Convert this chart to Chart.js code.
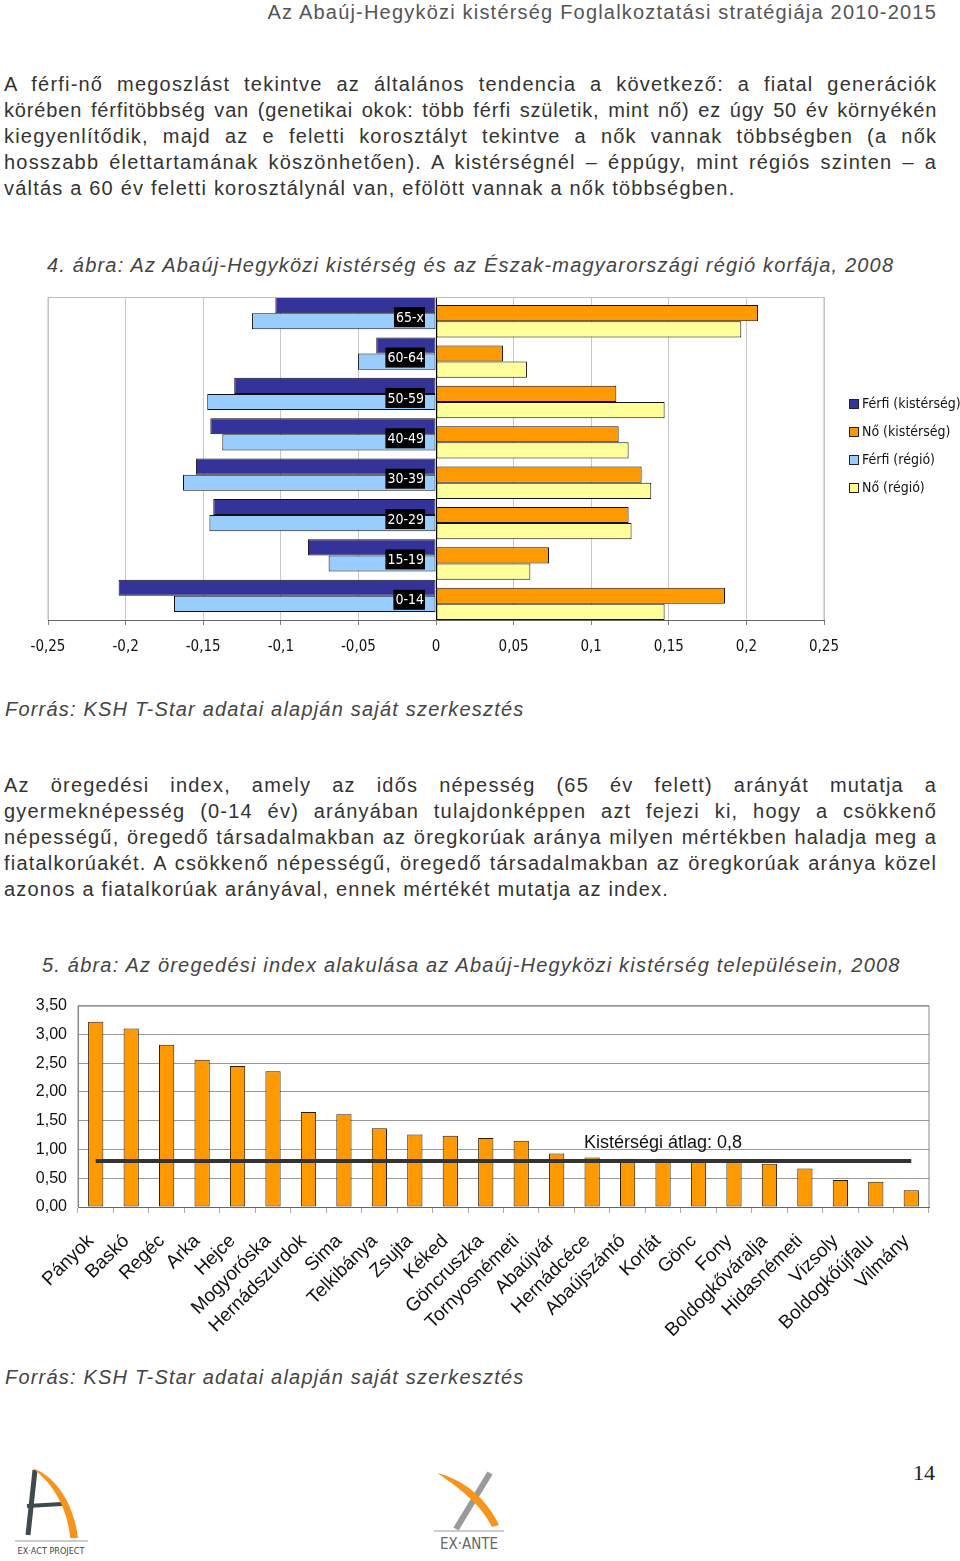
<!DOCTYPE html>
<html lang="hu">
<head>
<meta charset="utf-8">
<script src="https://cdn.jsdelivr.net/npm/chart.js@4.4.1/dist/chart.umd.min.js"></script>
<style>
  html, body { margin: 0; padding: 0; background: #fff; }
  body { width: 960px; height: 1561px; position: relative; overflow: hidden;
         font-family: "Liberation Sans", Arial, sans-serif; color: #333; }
  .abs { position: absolute; }
  canvas { display: block; }
  .hdr { top: 0; right: 23px; font-size: 20px; line-height: 24px; color: #555; white-space: nowrap; letter-spacing: 1.2px; }
  .para { left: 4px; width: 932px; font-size: 20px; line-height: 26px; color: #333; letter-spacing: 1.2px; }
  .para div { white-space: nowrap; }
  .para .j { text-align: justify; text-align-last: justify; white-space: normal; margin-right: -1.2px; }
  .para .t { letter-spacing: 0.85px; }
  .cap { font-size: 20px; line-height: 24px; font-style: italic; color: #444; white-space: nowrap; letter-spacing: 1.2px; }
  .pn { left: 913px; top: 1460px; font-family: "Liberation Serif", serif; font-size: 22px; line-height: 26px; color: #222; }
</style>
</head>
<body>
<div class="abs hdr">Az Abaúj-Hegyközi kistérség Foglalkoztatási stratégiája 2010-2015</div>

<div class="abs para" style="top:71px">
  <div class="j">A férfi-nő megoszlást tekintve az általános tendencia a következő: a fiatal generációk</div>
  <div class="j t">körében férfitöbbség van (genetikai okok: több férfi születik, mint nő) ez úgy 50 év környékén</div>
  <div class="j">kiegyenlítődik, majd az e feletti korosztályt tekintve a nők vannak többségben (a nők</div>
  <div class="j">hosszabb élettartamának köszönhetően). A kistérségnél – éppúgy, mint régiós szinten – a</div>
  <div>váltás a 60 év feletti korosztálynál van, efölött vannak a nők többségben.</div>
</div>

<div class="abs cap" style="top:253px; left:47px">4. ábra: Az Abaúj-Hegyközi kistérség és az Észak-magyarországi régió korfája, 2008</div>

<div class="abs" style="top:290px; left:0">
  <canvas id="pyramid" width="960" height="370"></canvas>
</div>

<div class="abs cap" style="top:697px; left:5px">Forrás: KSH T-Star adatai alapján saját szerkesztés</div>

<div class="abs para" style="top:772px">
  <div class="j">Az öregedési index, amely az idős népesség (65 év felett) arányát mutatja a</div>
  <div class="j">gyermeknépesség (0-14 év) arányában tulajdonképpen azt fejezi ki, hogy a csökkenő</div>
  <div class="j">népességű, öregedő társadalmakban az öregkorúak aránya milyen mértékben haladja meg a</div>
  <div class="j">fiatalkorúakét. A csökkenő népességű, öregedő társadalmakban az öregkorúak aránya közel</div>
  <div>azonos a fiatalkorúak arányával, ennek mértékét mutatja az index.</div>
</div>

<div class="abs cap" style="top:953px; left:42px">5. ábra: Az öregedési index alakulása az Abaúj-Hegyközi kistérség településein, 2008</div>

<div class="abs" style="top:985px; left:0">
  <canvas id="aging" width="960" height="360"></canvas>
</div>

<div class="abs cap" style="top:1365px; left:5px">Forrás: KSH T-Star adatai alapján saját szerkesztés</div>

<div class="abs pn">14</div>

<svg class="abs" style="left:12px; top:1462px" width="84" height="99" viewBox="0 0 84 99">
  <path d="M23 8 L16 73" stroke="#3f4a4f" stroke-width="5" fill="none"/>
  <path d="M15 44 L50 42" stroke="#3f4a4f" stroke-width="4" fill="none"/>
  <path d="M20 6 C40 20 56 46 58 76 L66 76 C62 42 44 14 20 6 Z" fill="#f7941d"/>
  <line x1="3" y1="79" x2="76" y2="79" stroke="#bbb" stroke-width="1.5"/>
  <text x="39" y="92" text-anchor="middle" font-family="DejaVu Sans Condensed, Liberation Sans, sans-serif" font-size="9" fill="#444">EX·ACT PROJECT</text>
</svg>

<svg class="abs" style="left:428px; top:1465px" width="80" height="90" viewBox="0 0 80 90">
  <path d="M62 8 L28 64" stroke="#9a9a9a" stroke-width="6" fill="none"/>
  <path d="M9 8 C30 22 52 38 64 62 L71 60 C58 32 34 14 9 8 Z" fill="#f7941d"/>
  <line x1="6" y1="66" x2="76" y2="66" stroke="#bbb" stroke-width="1.5"/>
  <text x="41" y="84" text-anchor="middle" font-family="DejaVu Sans Condensed, Liberation Sans, sans-serif" font-size="15" fill="#666">EX·ANTE</text>
</svg>

<script>
// ---------- Data: population pyramid (4. ábra) ----------
const ageGroups = ['65-x', '60-64', '50-59', '40-49', '30-39', '20-29', '15-19', '0-14'];
const maleSubregion   = [-0.1035, -0.0385, -0.1300, -0.1454, -0.1547, -0.1435, -0.0825, -0.2045];
const femaleSubregion = [ 0.2075,  0.0432,  0.1162,  0.1177,  0.1325,  0.1241,  0.0728,  0.1862];
const maleRegion      = [-0.1186, -0.0503, -0.1474, -0.1377, -0.1630, -0.1460, -0.0692, -0.1688];
const femaleRegion    = [ 0.1967,  0.0586,  0.1473,  0.1241,  0.1387,  0.1260,  0.0608,  0.1473];
const pyramidSeriesNames = ['Férfi (kistérség)', 'Nő (kistérség)', 'Férfi (régió)', 'Nő (régió)'];
const pyramidTickLabels = ['-0,25', '-0,2', '-0,15', '-0,1', '-0,05', '0', '0,05', '0,1', '0,15', '0,2', '0,25'];

// ---------- Data: ageing index (5. ábra) ----------
const villages = ['Pányok', 'Baskó', 'Regéc', 'Arka', 'Hejce', 'Mogyoróska', 'Hernádszurdok', 'Sima',
  'Telkibánya', 'Zsujta', 'Kéked', 'Göncruszka', 'Tornyosnémeti', 'Abaújvár', 'Hernádcéce', 'Abaújszántó',
  'Korlát', 'Gönc', 'Fony', 'Boldogkőváralja', 'Hidasnémeti', 'Vizsoly', 'Boldogkőújfalu', 'Vilmány'];
const agingIndex = [3.22, 3.10, 2.82, 2.56, 2.45, 2.36, 1.65, 1.61, 1.37, 1.26, 1.24, 1.20, 1.15,
  0.93, 0.86, 0.84, 0.84, 0.81, 0.80, 0.75, 0.67, 0.47, 0.44, 0.29];
const subregionAverage = 0.8;
const averageLabel = 'Kistérségi átlag: 0,8';
const agingTickLabels = ['0,00', '0,50', '1,00', '1,50', '2,00', '2,50', '3,00', '3,50'];

// ---------- Styling ----------
const NARROW = '"Liberation Sans Narrow", "Arial Narrow", "DejaVu Sans Condensed", sans-serif';
const SANS = '"Liberation Sans", Arial, sans-serif';
const pyramidColors = ['#333399', '#ff9900', '#99ccff', '#ffff99'];

// Draw datasets in index order so later (lower) bars overlap earlier ones, as in the original.
const drawInIndexOrder = {
  id: 'drawInIndexOrder',
  beforeDatasetsDraw(chart) {
    const metas = chart.getSortedVisibleDatasetMetas().slice().sort((a, b) => a.index - b.index);
    metas.forEach(m => m.controller.draw());
    return false;
  }
};

const plotFrame = {
  id: 'plotFrame',
  afterDraw(chart, args, opts) {
    const a = chart.chartArea, ctx = chart.ctx;
    ctx.save();
    ctx.strokeStyle = opts.color || '#999';
    ctx.lineWidth = 1;
    ctx.beginPath();
    ctx.moveTo(a.left, a.bottom); ctx.lineTo(a.left, a.top + 0.5);
    ctx.lineTo(a.right, a.top + 0.5); ctx.lineTo(a.right, a.bottom);
    ctx.stroke();
    ctx.restore();
  }
};

const ageLabelPlugin = {
  id: 'ageLabels',
  afterDraw(chart) {
    const ctx = chart.ctx, xs = chart.scales.x, ys = chart.scales.y;
    const x0 = xs.getPixelForValue(0);
    ctx.save();
    ctx.font = '14px ' + NARROW;
    ctx.textAlign = 'right';
    ctx.textBaseline = 'middle';
    chart.data.labels.forEach((lab, i) => {
      const y = ys.getPixelForValue(i);
      const w = ctx.measureText(lab).width;
      const right = x0 - 11;
      ctx.fillStyle = '#000';
      ctx.fillRect(right - w - 3, y - 10, w + 3, 20);
      ctx.fillStyle = '#fff';
      ctx.fillText(lab, right - 1, y + 1);
    });
    ctx.restore();
  }
};

const sideLegend = {
  id: 'sideLegend',
  afterDraw(chart) {
    const ctx = chart.ctx, a = chart.chartArea;
    ctx.save();
    ctx.font = '14px ' + NARROW;
    ctx.textAlign = 'left';
    ctx.textBaseline = 'middle';
    chart.data.datasets.forEach((ds, i) => {
      const x = a.right + 25;
      const y = a.top + 107 + i * 28;
      ctx.fillStyle = ds.backgroundColor;
      ctx.fillRect(x, y - 5, 9, 9);
      ctx.strokeStyle = '#222';
      ctx.lineWidth = 1;
      ctx.strokeRect(x + 0.5, y - 4.5, 9, 9);
      ctx.fillStyle = '#111';
      ctx.fillText(ds.label, x + 13, y);
    });
    ctx.restore();
  }
};

const averageText = {
  id: 'averageText',
  afterDraw(chart) {
    const ctx = chart.ctx;
    const x = chart.scales.x.getPixelForValue(villages.indexOf('Korlát'));
    const y = chart.scales.y.getPixelForValue(subregionAverage) - 18;
    ctx.save();
    ctx.font = '18px ' + SANS;
    ctx.fillStyle = '#111';
    ctx.textAlign = 'center';
    ctx.textBaseline = 'middle';
    ctx.fillText(averageLabel, x, y);
    ctx.restore();
  }
};

// ---------- Chart 1: pyramid ----------
const pyramidData = [maleSubregion, femaleSubregion, maleRegion, femaleRegion];
new Chart(document.getElementById('pyramid'), {
  type: 'bar',
  data: {
    labels: ageGroups,
    datasets: pyramidData.map((d, i) => ({
      label: pyramidSeriesNames[i],
      data: d,
      backgroundColor: pyramidColors[i],
      borderColor: '#111',
      borderWidth: 1,
      borderSkipped: false,
      categoryPercentage: 0.8,
      barPercentage: 2
    }))
  },
  options: {
    indexAxis: 'y',
    responsive: false,
    animation: false,
    layout: { padding: { left: 48, right: 136, top: 7, bottom: 0 } },
    plugins: { legend: { display: false }, tooltip: { enabled: false }, plotFrame: { color: '#bdbdbd' } },
    scales: {
      x: {
        min: -0.25, max: 0.25,
        ticks: {
          stepSize: 0.05,
          callback: (v, i) => pyramidTickLabels[i],
          font: { family: NARROW, size: 15 },
          color: '#111',
          padding: 13,
          maxRotation: 0
        },
        grid: {
          color: ctx => (ctx.tick && Math.abs(ctx.tick.value) < 1e-9) ? '#000' : '#c8c8c8',
          tickColor: '#808080',
          tickLength: 5
        },
        border: { color: '#666' },
        afterFit: s => { s.height = 40; }
      },
      y: { display: false }
    }
  },
  plugins: [drawInIndexOrder, plotFrame, ageLabelPlugin, sideLegend]
});

// ---------- Chart 2: ageing index ----------
new Chart(document.getElementById('aging'), {
  type: 'bar',
  data: {
    labels: villages,
    datasets: [
      {
        type: 'bar',
        label: 'Öregedési index',
        data: agingIndex,
        backgroundColor: '#ff9900',
        borderColor: '#2b1d08',
        borderWidth: 1,
        borderSkipped: false,
        categoryPercentage: 1,
        barPercentage: 0.43
      },
      {
        type: 'line',
        label: averageLabel,
        data: [{ x: villages[0], y: subregionAverage }, { x: villages[villages.length - 1], y: subregionAverage }],
        borderColor: '#333',
        borderWidth: 4,
        pointRadius: 0,
        fill: false
      }
    ]
  },
  options: {
    responsive: false,
    animation: false,
    layout: { padding: { left: 0, right: 31, top: 10, bottom: 8 } },
    plugins: { legend: { display: false }, tooltip: { enabled: false }, plotFrame: { color: '#8a8a8a' } },
    scales: {
      x: {
        ticks: {
          autoSkip: false,
          minRotation: 45, maxRotation: 45,
          font: { family: SANS, size: 19 },
          color: '#111',
          padding: 17,
          labelOffset: -5
        },
        grid: { offset: true, drawOnChartArea: false, tickLength: 6, color: '#aaa' },
        border: { color: '#666' },
        afterFit: s => { s.height = 130; }
      },
      y: {
        min: 0, max: 3.5,
        ticks: {
          stepSize: 0.5,
          callback: (v, i) => agingTickLabels[i],
          font: { family: SANS, size: 16 },
          color: '#111',
          padding: 11
        },
        grid: { color: '#9a9a9a', drawTicks: false },
        border: { color: '#8a8a8a' },
        afterFit: s => { s.width = 78; }
      }
    }
  },
  plugins: [drawInIndexOrder, plotFrame, averageText]
});
</script>
</body>
</html>
